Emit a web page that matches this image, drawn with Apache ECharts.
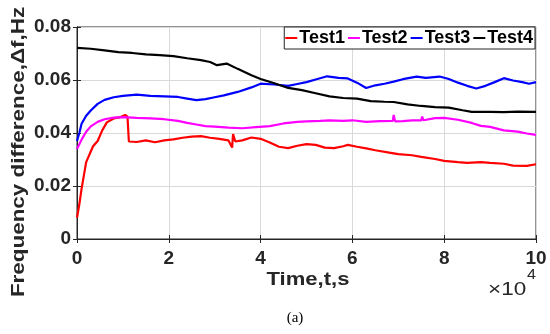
<!DOCTYPE html>
<html>
<head>
<meta charset="utf-8">
<script src="https://cdn.jsdelivr.net/npm/echarts@6/dist/echarts.min.js"></script>
<style>html,body{margin:0;padding:0;background:#fff;}#c{width:550px;height:334px;}</style>
</head>
<body>
<div id="c"></div>
<script>
// time in units of 1e4 s
const xTicks = [0, 2, 4, 6, 8, 10];
const yTicks = [0, 0.02, 0.04, 0.06, 0.08];
const seriesNames = ['Test1', 'Test2', 'Test3', 'Test4'];

const t1 = [0,0.05,0.1,0.15,0.2,0.3,0.35,0.45,0.55,0.65,0.8,0.95,1.05,1.1,1.12,1.13,1.3,1.5,1.7,1.9,2.1,2.3,2.5,2.7,2.9,3.1,3.3,3.38,3.4,3.45,3.6,3.8,4.0,4.2,4.4,4.6,4.8,5.0,5.2,5.4,5.6,5.8,5.9,6.1,6.3,6.5,6.8,7.0,7.3,7.5,7.8,8.0,8.3,8.5,8.8,9.0,9.3,9.5,9.8,10];
const v1 = [0.008,0.013,0.019,0.024,0.029,0.033,0.035,0.037,0.041,0.044,0.0455,0.046,0.0468,0.0462,0.0468,0.0368,0.0366,0.0372,0.0365,0.0372,0.0376,0.0382,0.0386,0.0388,0.0382,0.0378,0.0372,0.0345,0.0396,0.0368,0.0372,0.0383,0.0378,0.0364,0.0348,0.0343,0.0352,0.0358,0.0355,0.0345,0.0343,0.035,0.0355,0.0348,0.0342,0.0335,0.0326,0.032,0.0316,0.031,0.0302,0.0295,0.029,0.0287,0.029,0.0287,0.0284,0.0277,0.0276,0.0282];

const t2 = [0,0.1,0.2,0.3,0.45,0.6,0.8,1.0,1.3,1.6,1.9,2.2,2.4,2.6,2.8,3.0,3.3,3.6,3.9,4.2,4.5,4.8,5.0,5.3,5.5,5.8,6.0,6.3,6.6,6.88,6.9,6.93,7.1,7.3,7.5,7.52,7.55,7.8,8.0,8.3,8.6,8.8,9.0,9.3,9.6,9.8,10];
const v2 = [0.034,0.0375,0.0405,0.0425,0.0442,0.0452,0.0458,0.046,0.0457,0.0455,0.0452,0.0446,0.0438,0.0432,0.0426,0.0424,0.042,0.0418,0.0422,0.0426,0.0436,0.0442,0.0444,0.0446,0.0448,0.0446,0.0448,0.0442,0.0445,0.0446,0.0468,0.0444,0.0445,0.0448,0.0448,0.0462,0.0448,0.0456,0.0457,0.045,0.0438,0.0427,0.0423,0.041,0.0405,0.0398,0.0393];

const t3 = [0,0.05,0.1,0.2,0.3,0.45,0.6,0.8,1.0,1.3,1.6,1.9,2.2,2.4,2.6,2.8,3.0,3.2,3.5,3.8,4.0,4.3,4.6,4.8,5.0,5.2,5.45,5.7,5.9,6.1,6.3,6.5,6.7,6.9,7.1,7.4,7.6,7.9,8.1,8.3,8.5,8.7,8.9,9.1,9.3,9.5,9.7,9.85,10];
const v3 = [0.037,0.040,0.0435,0.0465,0.0485,0.051,0.0525,0.0535,0.054,0.0545,0.054,0.0538,0.0536,0.053,0.0524,0.0528,0.0535,0.0542,0.0555,0.0572,0.0586,0.0583,0.0578,0.0585,0.0592,0.0602,0.0614,0.0608,0.0606,0.059,0.057,0.058,0.0586,0.0594,0.0603,0.0613,0.0608,0.0613,0.0604,0.059,0.0578,0.0568,0.0578,0.0592,0.0607,0.0598,0.0592,0.0586,0.0592];

const t4 = [0,0.3,0.6,0.9,1.2,1.5,1.8,2.1,2.4,2.7,2.9,3.05,3.26,3.5,3.8,4.0,4.3,4.6,4.9,5.2,5.5,5.8,6.1,6.4,6.7,6.9,7.2,7.5,7.8,8.1,8.4,8.6,9.0,9.3,9.6,10];
const v4 = [0.0721,0.0718,0.0712,0.0705,0.0702,0.0697,0.0694,0.069,0.0682,0.0675,0.0668,0.0656,0.0662,0.0642,0.0618,0.0604,0.0588,0.057,0.0562,0.055,0.0538,0.0532,0.053,0.052,0.0518,0.0517,0.0508,0.0502,0.0498,0.0496,0.0486,0.048,0.048,0.0479,0.0481,0.048];

const colors = ['#ff0000', '#ff00ff', '#0000ff', '#000000'];
const times = [t1, t2, t3, t4];
const vals = [v1, v2, v3, v4];

const axisColor = '#262626';
const font = 'Liberation Sans, Arial, sans-serif';

const chart = echarts.init(document.getElementById('c'), null, {renderer: 'canvas'});
const series = seriesNames.map((n, i) => ({
  name: n,
  type: 'line',
  data: times[i].map((t, k) => [t, vals[i][k]]),
  showSymbol: false,
  symbol: 'none',
  lineStyle: {color: colors[i], width: 2.2},
  itemStyle: {color: colors[i]},
  animation: false,
  xAxisIndex: 0, yAxisIndex: 0
}));

const option = {
  animation: false,
  backgroundColor: '#fff',
  grid: {left: 77, right: 14, top: 27, bottom: 95, show: true, borderColor: axisColor, borderWidth: 1, backgroundColor: 'transparent'},
  legend: {
    data: seriesNames.map((n, i) => ({name: n, icon: 'rect', itemStyle: {color: colors[i]}})),
    right: 15, top: 27,
    itemWidth: 12, itemHeight: 2, itemGap: 3,
    padding: [2, 2, 2, 1],
    borderColor: axisColor, borderWidth: 1,
    backgroundColor: '#fff',
    textStyle: {fontFamily: font, fontWeight: 'bold', fontSize: 18, color: '#000', padding: [0, 0, 0, -3]},
    z: 10
  },
  xAxis: [{
    type: 'value', min: 0, max: 10, interval: 2,
    axisLine: {show: true, lineStyle: {color: axisColor}},
    axisTick: {show: true, inside: true, length: 4, lineStyle: {color: axisColor}},
    splitLine: {show: true, lineStyle: {color: '#d9d9d9', width: 1}},
    axisLabel: {fontFamily: font, fontWeight: 'bold', fontSize: 19, color: axisColor, margin: 10,
      formatter: v => xTicks.includes(v) ? String(v) : ''}
  }, {
    type: 'value', min: 0, max: 10, interval: 2, position: 'top',
    axisLine: {show: true, lineStyle: {color: axisColor}},
    axisTick: {show: true, inside: true, length: 4, lineStyle: {color: axisColor}},
    axisLabel: {show: false}, splitLine: {show: false}
  }],
  yAxis: [{
    type: 'value', min: 0, max: 0.08, interval: 0.02,
    axisLine: {show: true, lineStyle: {color: axisColor}},
    axisTick: {show: true, inside: true, length: 4, lineStyle: {color: axisColor}},
    splitLine: {show: true, lineStyle: {color: '#d9d9d9', width: 1}},
    axisLabel: {fontFamily: font, fontWeight: 'bold', fontSize: 19, color: axisColor, margin: 6,
      formatter: v => { const m = yTicks.find(t => Math.abs(t - v) < 1e-9); return m === 0 ? '0' : (m !== undefined ? m.toFixed(2) : ''); }}
  }, {
    type: 'value', min: 0, max: 0.08, interval: 0.02, position: 'right',
    axisLine: {show: true, lineStyle: {color: axisColor}},
    axisTick: {show: true, inside: true, length: 4, lineStyle: {color: axisColor}},
    axisLabel: {show: false}, splitLine: {show: false}
  }],
  graphic: [
    {type: 'text', x: 19, y: 152, rotation: Math.PI / 2, scaleX: 1.18,
     style: {text: 'Frequency difference,Δf,Hz', fontFamily: font, fontWeight: 'bold', fontSize: 19, fill: axisColor, align: 'center', verticalAlign: 'middle'}},
    {type: 'text', x: 308, y: 280, scaleX: 1.16,
     style: {text: 'Time,t,s', fontFamily: font, fontWeight: 'bold', fontSize: 19, fill: axisColor, align: 'center', verticalAlign: 'middle'}},
    {type: 'text', x: 488, y: 290, scaleX: 1.25,
     style: {text: '×10', fontFamily: font, fontSize: 18, fill: axisColor, align: 'left', verticalAlign: 'middle'}},
    {type: 'text', x: 527, y: 275, scaleX: 1.15,
     style: {text: '4', fontFamily: font, fontSize: 14, fill: axisColor, align: 'left', verticalAlign: 'middle'}},
    {type: 'text', x: 295, y: 318,
     style: {text: '(a)', fontFamily: 'Liberation Serif, DejaVu Serif, serif', fontSize: 15, fill: '#000', align: 'center', verticalAlign: 'middle'}}
  ],
  series: series
};
chart.setOption(option);
</script>
</body>
</html>
